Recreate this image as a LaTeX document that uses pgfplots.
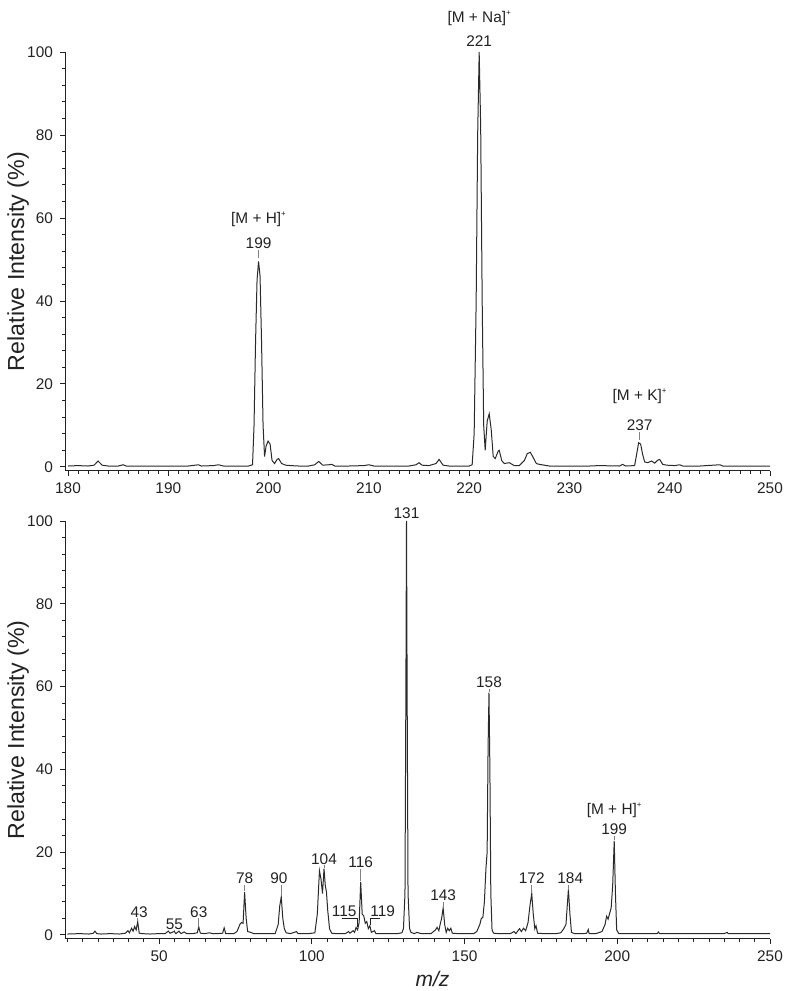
\documentclass[border=0pt]{standalone}
\usepackage{pgfplots}
\pgfplotsset{compat=1.18}
\usepackage{fontspec}
\setmainfont{Liberation Sans}
\definecolor{ink}{HTML}{222222}
\definecolor{spec}{HTML}{2A2A2A}
\newcommand{\plus}{\raisebox{0.9ex}{\fontsize{4}{4}\selectfont +}}
\tikzset{
  lab/.style={font=\fontsize{7.7}{9}\selectfont, text=ink, anchor=base, inner sep=0pt},
  conn/.style={gray, line width=0.4pt},
}
\pgfplotsset{
  msaxis/.style={
    scale only axis, width=352.5pt,
    axis x line*=bottom, axis y line*=left,
    tick align=outside,
    major tick length=2.5pt, minor tick length=1.3pt,
    ymax=100, ytick={0,20,...,100}, minor ytick={0,4,...,100},
    tick label style={font=\fontsize{7.7}{9}\selectfont, text=ink},
    axis line style={ink, line width=0.5pt},
    tick style={ink, line width=0.4pt},
    ylabel={Relative Intensity (\%)},
    ylabel style={font=\fontsize{11.6}{13}\selectfont, text=ink,
      at={(axis description cs:-0.0411,0.5)}, anchor=south},
    clip=false,
    /pgf/number format/assume math mode=true,
  }
}
\begin{document}
\begin{tikzpicture}
\useasboundingbox (0,0) rectangle (400pt,495.5pt);
% ---------------- top spectrum ----------------
\begin{axis}[msaxis, at={(32.5pt,260pt)}, anchor=south west,
  height=209.5pt, xmin=179.7, xmax=250, ymin=-1,
  xtick={180,190,...,250}, minor xtick={180,181,...,250}]
\addplot[spec, line width=0.5pt] table[row sep=\\] {
x y\\
180.0 0.2\\ 181.0 0.3\\ 182.0 0.2\\ 182.6 0.4\\ 183.0 1.4\\ 183.4 0.4\\ 184.0 0.2\\
185.0 0.2\\ 185.5 0.5\\ 185.8 0.2\\ 187.0 0.2\\ 189.0 0.2\\ 190.0 0.2\\ 192.0 0.2\\
193.0 0.5\\ 193.3 0.2\\ 194.5 0.3\\ 195.0 0.5\\ 195.5 0.2\\ 197.0 0.2\\ 198.0 0.2\\
198.4 0.5\\ 198.55 10\\ 198.7 30\\ 198.85 45\\ 199.0 49.5\\ 199.15 46\\ 199.3 30\\
199.45 10\\ 199.6 2.5\\ 199.75 5\\ 199.95 6.2\\ 200.15 5.5\\ 200.35 1.5\\ 200.6 0.8\\
200.85 1.8\\ 201.0 2.0\\ 201.3 0.8\\ 201.7 0.4\\ 202.2 0.3\\ 203.0 0.2\\ 204.0 0.2\\
204.6 0.5\\ 205.0 1.3\\ 205.4 0.4\\ 206.0 0.5\\ 206.3 0.6\\ 206.6 0.2\\ 208.0 0.2\\
209.5 0.3\\ 210.0 0.5\\ 210.5 0.2\\ 212.0 0.2\\ 214.0 0.2\\ 214.7 0.5\\ 215.0 1.0\\
215.3 0.4\\ 216.0 0.3\\ 216.7 0.8\\ 217.0 1.8\\ 217.4 0.4\\ 218.0 0.2\\ 219.0 0.2\\
220.0 0.2\\ 220.3 0.5\\ 220.5 8\\ 220.7 40\\ 220.85 80\\ 221.0 100\\ 221.15 82\\
221.3 40\\ 221.45 10\\ 221.6 4\\ 221.8 11\\ 222.0 12.8\\ 222.2 9\\ 222.4 2.5\\
222.6 2\\ 222.9 3.8\\ 223.0 4\\ 223.25 1.5\\ 223.5 0.8\\ 224.0 1.0\\ 224.5 0.3\\
225.0 0.3\\ 225.5 1.5\\ 225.8 3.2\\ 226.1 3.5\\ 226.4 2.2\\ 226.7 0.8\\ 227.0 0.6\\
228.0 0.2\\ 230.0 0.2\\ 232.0 0.2\\ 233.0 0.3\\ 235.0 0.2\\ 235.3 0.6\\ 235.6 0.2\\
236.5 0.3\\ 236.7 3\\ 236.9 5.8\\ 237.1 5.5\\ 237.3 3\\ 237.5 1.2\\ 237.8 1.0\\
238.2 1.4\\ 238.5 0.9\\ 238.8 1.6\\ 239.0 1.8\\ 239.3 0.6\\ 239.7 0.4\\ 240.5 0.3\\
241.0 0.5\\ 241.3 0.2\\ 243.0 0.2\\ 245.0 0.5\\ 245.3 0.2\\ 247.0 0.2\\ 250.0 0.2\\
};
\draw[conn] (axis cs:199,50.3) -- (axis cs:199,52.2);
\node[lab] at (axis cs:199,52.7) {199};
\node[lab] at (axis cs:199,58.6) {[M + H]\plus};
\node[lab] at (axis cs:221,101.3) {221};
\node[lab] at (axis cs:221,107.0) {[M + Na]\plus};
\draw[conn] (axis cs:237,6.5) -- (axis cs:237,8.3);
\node[lab] at (axis cs:237,8.8) {237};
\node[lab] at (axis cs:237,16.0) {[M + K]\plus};
\end{axis}
% ---------------- bottom spectrum ----------------
\begin{axis}[msaxis, at={(32.5pt,26pt)}, anchor=south west,
  height=209pt, xmin=19.2, xmax=250, ymin=-1,
  xtick={50,100,...,250}, minor xtick={20,25,...,250},
  xlabel={\itshape m/z}, xlabel style={font=\fontsize{10.5}{12}\selectfont, text=ink, xshift=7.5pt, yshift=2pt}]
\addplot[spec, line width=0.5pt] table[row sep=\\] {
x y\\
20 0.2\\ 24 0.3\\ 27 0.2\\ 28.5 0.4\\ 29 0.9\\ 29.6 0.3\\ 31 0.2\\ 34 0.3\\ 37 0.2\\
39 0.4\\ 39.8 1.0\\ 40.3 0.5\\ 41 1.6\\ 41.5 0.9\\ 42 2.0\\ 42.5 1.2\\ 43 3.2\\
43.5 0.4\\ 44.5 0.3\\ 47 0.2\\ 50 0.3\\ 52 0.3\\ 53 0.9\\ 53.6 0.4\\ 54.5 0.7\\
55 0.8\\ 55.5 0.3\\ 56.5 0.9\\ 57.2 0.3\\ 58.2 0.7\\ 59 0.3\\ 61 0.3\\ 62.5 0.5\\
63 1.9\\ 63.5 0.4\\ 65 0.3\\ 66.5 0.5\\ 67.5 0.3\\ 69 0.3\\ 70.8 0.4\\ 71.3 1.7\\
71.8 0.3\\ 74.5 0.3\\ 75.5 0.8\\ 76.5 2.6\\ 77 3.0\\ 77.5 2.8\\ 78 10.3\\ 78.5 4.0\\
79 0.8\\ 80 0.6\\ 81 0.3\\ 85 0.3\\ 88 0.3\\ 89 2.5\\ 89.5 7\\ 90 9.2\\ 90.5 4\\
91 1.5\\ 91.6 0.5\\ 93 0.3\\ 95 0.8\\ 95.5 0.3\\ 99 0.3\\ 101 0.5\\ 101.8 5\\
102.5 15.5\\ 103 13.5\\ 103.5 10\\ 104 16\\ 104.4 12\\ 104.8 10.3\\ 105.2 6\\
105.8 1.5\\ 106.5 0.4\\ 108 0.3\\ 111 0.3\\ 112 0.8\\ 112.5 0.4\\ 113.5 1.0\\
114 0.6\\ 114.5 1.8\\ 115 1.2\\ 115.5 3\\ 116 12.8\\ 116.5 5\\ 117 4.6\\ 117.5 2.8\\
118 3.2\\ 118.5 1.5\\ 119 2.2\\ 119.5 0.6\\ 120.5 1.0\\ 121 0.3\\ 124 0.3\\ 128 0.3\\
129.5 0.5\\ 130 1.5\\ 130.5 10\\ 130.8 60\\ 131 100\\ 131.2 60\\ 131.5 10\\ 132 1.5\\
132.5 0.6\\ 133.5 0.3\\ 134.5 0.6\\ 135.3 0.4\\ 136 0.3\\ 139 0.3\\ 140.5 1.2\\
141 1.8\\ 141.6 1.0\\ 142 2.5\\ 142.5 4\\ 143 6.5\\ 143.5 2.5\\ 144 0.6\\ 144.5 1.6\\
145 1.0\\ 145.5 1.6\\ 146 0.4\\ 148 0.3\\ 151 0.3\\ 153 0.3\\ 154 0.8\\ 155 2.5\\
155.5 4\\ 156 4.2\\ 156.5 8\\ 157 16\\ 157.4 20\\ 157.7 45\\ 158 58.5\\ 158.3 40\\
158.6 10\\ 159 1.2\\ 159.5 0.4\\ 161 0.3\\ 165 0.3\\ 166.2 0.8\\ 166.8 0.3\\ 168 1.5\\
168.6 0.8\\ 169.3 1.6\\ 170 1.0\\ 170.8 3\\ 171.4 7\\ 172 10\\ 172.5 5\\ 173 1.5\\
173.4 2.2\\ 173.9 0.4\\ 176 0.3\\ 180 0.3\\ 181.5 0.5\\ 182.5 1.5\\ 183.2 2.5\\
184 11\\ 184.5 5\\ 185 0.6\\ 186 0.3\\ 189 0.3\\ 190 0.4\\ 190.5 1.3\\ 190.8 0.3\\
193 0.3\\ 195 0.8\\ 196 2.5\\ 196.5 4.5\\ 197 3.8\\ 197.5 5.2\\ 198 6.5\\ 198.5 12\\
199 22.7\\ 199.4 10\\ 199.8 1.2\\ 200.5 0.3\\ 205 0.3\\ 210 0.3\\ 213 0.3\\
213.5 0.7\\ 213.8 0.3\\ 220 0.3\\ 230 0.3\\ 235 0.3\\ 236 0.6\\ 236.3 0.3\\
240 0.3\\ 245 0.3\\ 250 0.3\\
};
% labels
\draw[conn] (axis cs:43,3.4) -- (axis cs:43,4.0);
\node[lab] at (axis cs:43.5,4.3) {43};
\draw[conn] (axis cs:55,0.9) -- (axis cs:55,1.1);
\node[lab] at (axis cs:55,1.3) {55};
\draw[conn] (axis cs:63,2.1) -- (axis cs:63,4.0);
\node[lab] at (axis cs:63,4.3) {63};
\draw[conn] (axis cs:78,10.5) -- (axis cs:78,12.0);
\node[lab] at (axis cs:78,12.3) {78};
\draw[conn] (axis cs:90,9.4) -- (axis cs:90,12.0);
\node[lab] at (axis cs:89.2,12.3) {90};
\draw[conn] (axis cs:104,16.2) -- (axis cs:104,16.8);
\node[lab] at (axis cs:104,17.1) {104};
\draw[conn] (axis cs:116,13.0) -- (axis cs:116,15.9);
\node[lab] at (axis cs:116,16.2) {116};
\node[lab] at (axis cs:110.6,4.5) {115};
\draw[conn, ink] (axis cs:109.9,4.0) -- (axis cs:114.8,4.0) -- (axis cs:114.8,1.9);
\node[lab] at (axis cs:123.2,4.5) {119};
\draw[conn, ink] (axis cs:122.3,4.0) -- (axis cs:119.1,4.0) -- (axis cs:119.1,2.5);
\node[lab] at (axis cs:131,100.6) {131};
\draw[conn] (axis cs:143,6.7) -- (axis cs:143,8.0);
\node[lab] at (axis cs:143,8.3) {143};
\draw[conn] (axis cs:158,58.7) -- (axis cs:158,59.4);
\node[lab] at (axis cs:158,59.7) {158};
\draw[conn] (axis cs:172,10.2) -- (axis cs:172,12.0);
\node[lab] at (axis cs:172,12.3) {172};
\draw[conn] (axis cs:184,11.2) -- (axis cs:184,12.0);
\node[lab] at (axis cs:184.6,12.3) {184};
\draw[conn] (axis cs:199,22.9) -- (axis cs:199,24.0);
\node[lab] at (axis cs:199,24.3) {199};
\node[lab] at (axis cs:199,29.1) {[M + H]\plus};
\end{axis}
\end{tikzpicture}
\end{document}
